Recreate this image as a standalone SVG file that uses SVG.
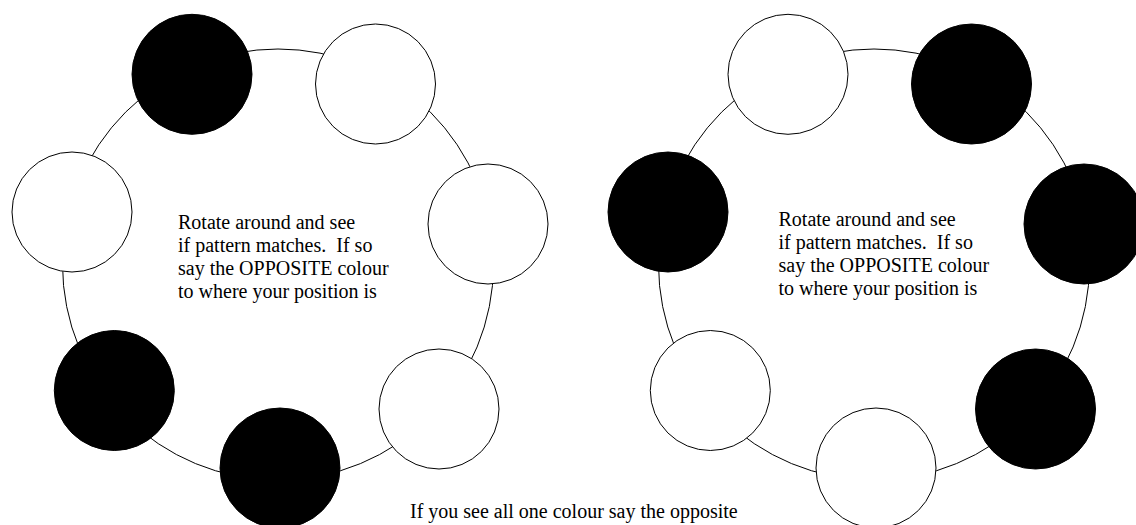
<svg xmlns="http://www.w3.org/2000/svg" width="1136" height="525" viewBox="0 0 1136 525">
  <style>
    .ring { fill: none; stroke: #000; stroke-width: 1; }
    .dot { stroke: #000; stroke-width: 1; }
    .black { fill: #000; }
    .white { fill: #fff; }
    .label { font-family: "Liberation Serif", "Times New Roman", serif; font-size: 20px; fill: #000; }
  </style>
  <rect width="1136" height="525" fill="#fff"/>

  <!-- ring connectors joining the positions -->
  <g id="connectors">
    <circle class="ring" cx="278" cy="264.5" r="215.5"/>
    <circle class="ring" cx="874" cy="264.5" r="215.5"/>
  </g>

  <!-- left ring: seven positions -->
  <g id="left-ring">
    <g id="l1"><circle class="dot black" cx="192" cy="74.3" r="60"/></g>
    <g id="l2"><circle class="dot white" cx="375.5" cy="84" r="60"/></g>
    <g id="l3"><circle class="dot white" cx="488" cy="224" r="60"/></g>
    <g id="l4"><circle class="dot white" cx="439" cy="409" r="60"/></g>
    <g id="l5"><circle class="dot black" cx="280" cy="468" r="60"/></g>
    <g id="l6"><circle class="dot black" cx="114.3" cy="390.5" r="60"/></g>
    <g id="l7"><circle class="dot white" cx="72" cy="212" r="60"/></g>
    <g id="left-note">
      <text class="label" x="178" y="228.5">
        <tspan x="178" y="228.5">Rotate around and see</tspan>
        <tspan x="178" y="251.8">if pattern matches.&#160; If so</tspan>
        <tspan x="178" y="275.1">say the OPPOSITE colour</tspan>
        <tspan x="178" y="298.4">to where your position is</tspan>
      </text>
    </g>
  </g>

  <!-- right ring: seven positions -->
  <g id="right-ring">
    <g id="r1"><circle class="dot white" cx="788" cy="74.3" r="60"/></g>
    <g id="r2"><circle class="dot black" cx="971.5" cy="84" r="60"/></g>
    <g id="r3"><circle class="dot black" cx="1084" cy="224" r="60"/></g>
    <g id="r4"><circle class="dot black" cx="1035.5" cy="409" r="60"/></g>
    <g id="r5"><circle class="dot white" cx="876" cy="468" r="60"/></g>
    <g id="r6"><circle class="dot white" cx="710.3" cy="390.5" r="60"/></g>
    <g id="r7"><circle class="dot black" cx="668" cy="212" r="60"/></g>
    <g id="right-note">
      <text class="label" x="778.5" y="225.5">
        <tspan x="778.5" y="225.5">Rotate around and see</tspan>
        <tspan x="778.5" y="248.8">if pattern matches.&#160; If so</tspan>
        <tspan x="778.5" y="272.1">say the OPPOSITE colour</tspan>
        <tspan x="778.5" y="295.4">to where your position is</tspan>
      </text>
    </g>
  </g>

  <g id="footer-note">
    <text class="label" x="410" y="518.3">If you see all one colour say the opposite</text>
  </g>
</svg>
